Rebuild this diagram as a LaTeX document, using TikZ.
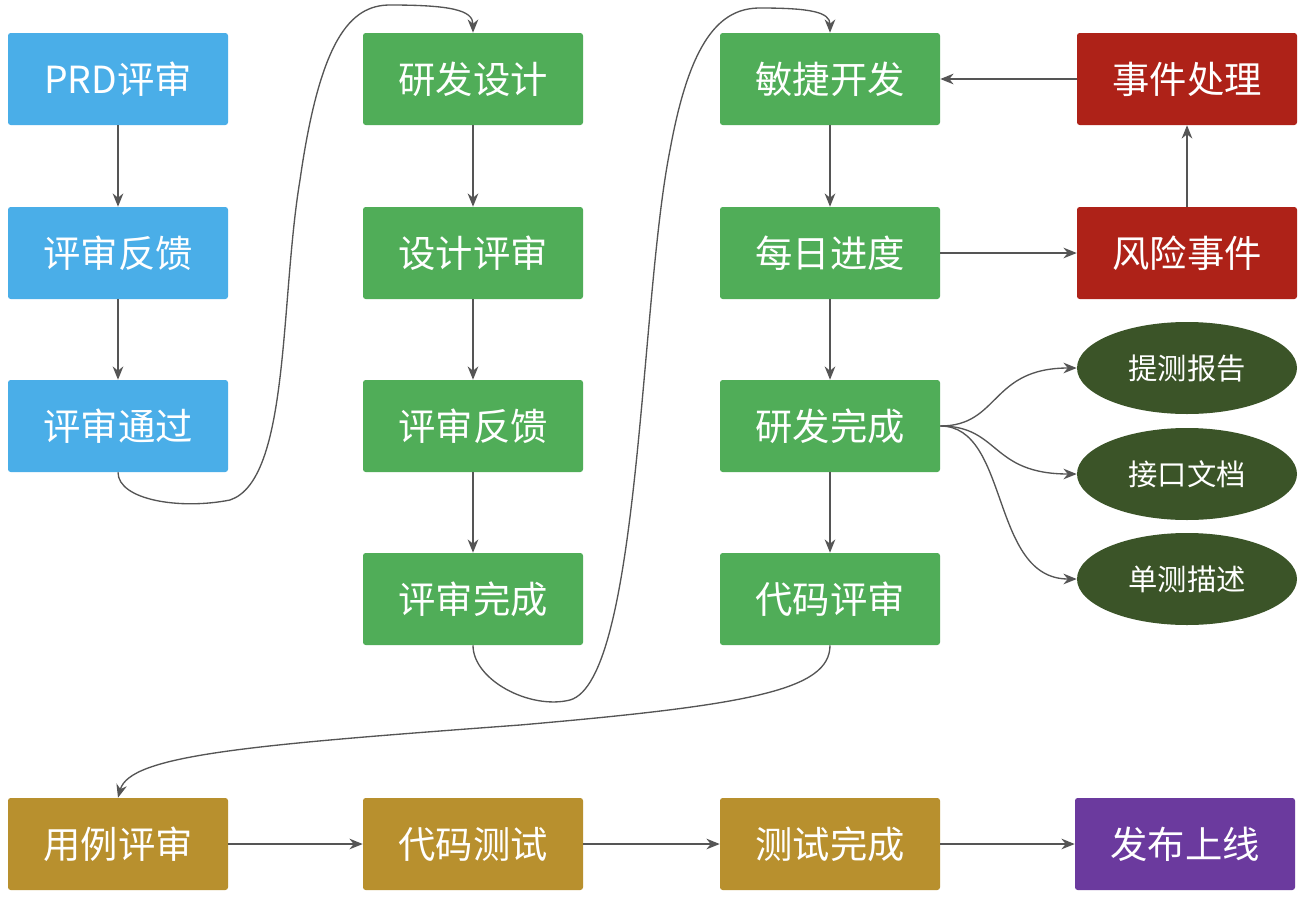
\documentclass[tikz,border=0pt]{standalone}
\usepackage{fontspec}
\newfontfamily\cjk{Noto Sans CJK SC}
\usetikzlibrary{shapes.geometric,arrows.meta}
\definecolor{cblue}{HTML}{4AAEE8}
\definecolor{cgreen}{HTML}{50AD58}
\definecolor{cred}{HTML}{AE2218}
\definecolor{colive}{HTML}{3B5428}
\definecolor{cgold}{HTML}{B8902E}
\definecolor{cpurple}{HTML}{6B3A9E}
\definecolor{cline}{HTML}{555555}
\begin{document}
\begin{tikzpicture}[x=0.75pt,y=-0.75pt,
 box/.style={draw=none,rounded corners=2pt,minimum width=165pt,minimum height=69pt,text=white,font=\cjk\fontsize{28}{32}\selectfont,inner sep=0pt},
 ell/.style={ellipse,draw=none,fill=colive,minimum width=165pt,minimum height=69pt,text=white,font=\cjk\fontsize{22}{26}\selectfont,inner sep=0pt},
 arr/.style={draw=cline,line width=1pt,-{Stealth[length=10pt,width=8pt]}}]
\useasboundingbox[fill=white] (0,0) rectangle (1304,900);
\node[box,fill=cblue] (a1) at (118,79) {PRD评审};
\node[box,fill=cblue] (a2) at (118,253) {评审反馈};
\node[box,fill=cblue] (a3) at (118,426) {评审通过};
\node[box,fill=cgreen] (b1) at (473,79) {研发设计};
\node[box,fill=cgreen] (b2) at (473,253) {设计评审};
\node[box,fill=cgreen] (b3) at (473,426) {评审反馈};
\node[box,fill=cgreen] (b4) at (473,599) {评审完成};
\node[box,fill=cgreen] (c1) at (830,79) {敏捷开发};
\node[box,fill=cgreen] (c2) at (830,253) {每日进度};
\node[box,fill=cgreen] (c3) at (830,426) {研发完成};
\node[box,fill=cgreen] (c4) at (830,599) {代码评审};
\node[box,fill=cred] (d1) at (1187,79) {事件处理};
\node[box,fill=cred] (d2) at (1187,253) {风险事件};
\node[ell] (e1) at (1187,368) {提测报告};
\node[ell] (e2) at (1187,474) {接口文档};
\node[ell] (e3) at (1187,579) {单测描述};
\node[box,fill=cgold] (f1) at (118,844) {用例评审};
\node[box,fill=cgold] (f2) at (473,844) {代码测试};
\node[box,fill=cgold] (f3) at (830,844) {测试完成};
\node[box,fill=cpurple] (f4) at (1185,844) {发布上线};
\draw[arr] (a1) -- (a2);
\draw[arr] (a2) -- (a3);
\draw[arr] (b1) -- (b2);
\draw[arr] (b2) -- (b3);
\draw[arr] (b3) -- (b4);
\draw[arr] (c1) -- (c2);
\draw[arr] (c2) -- (c3);
\draw[arr] (c3) -- (c4);
\draw[arr] (d1) -- (c1);
\draw[arr] (d2) -- (d1);
\draw[arr] (c2) -- (d2);
\draw[arr] (f1) -- (f2);
\draw[arr] (f2) -- (f3);
\draw[arr] (f3) -- (f4);
\draw[arr] (a3.south) .. controls (118,500) and (180,510) .. (230,500) .. controls (290,480) and (280,300) .. (300,180) .. controls (320,40) and (350,5) .. (390,5) .. controls (450,5) and (473,10) .. (b1.north);
\draw[arr] (b4.south) .. controls (473,680) and (530,710) .. (570,700) .. controls (640,680) and (640,300) .. (670,150) .. controls (690,40) and (720,8) .. (760,8) .. controls (810,8) and (830,12) .. (c1.north);
\draw[arr] (c4.south) .. controls (830,690) and (750,705) .. (520,725) .. controls (250,745) and (130,755) .. (f1.north);
\draw[arr] (c3.east) .. controls (1000,426) and (990,368) .. (e1.west);
\draw[arr] (c3.east) .. controls (1000,426) and (990,474) .. (e2.west);
\draw[arr] (c3.east) .. controls (1010,426) and (990,579) .. (e3.west);
\end{tikzpicture}
\end{document}
